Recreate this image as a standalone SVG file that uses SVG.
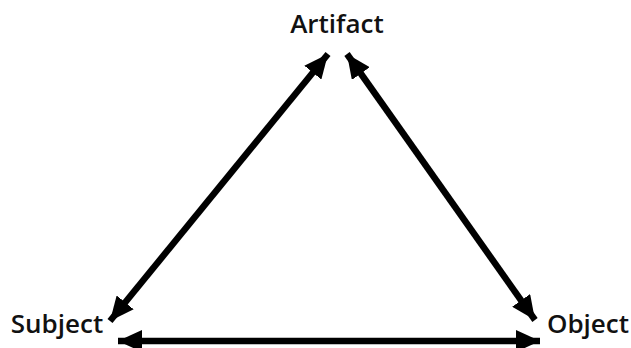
<svg xmlns="http://www.w3.org/2000/svg" width="631" height="348" viewBox="0 0 631 348">
<style>
.lbl{font-family:"Open Sans","Liberation Sans",sans-serif;font-size:26px;font-weight:600;fill:#111;}
.edge{stroke:#000;stroke-width:6.5;fill:none;}
</style>
<defs>
<marker id="ah" viewBox="0 0 24 22" refX="24" refY="11" markerWidth="24" markerHeight="22" markerUnits="userSpaceOnUse" orient="auto-start-reverse">
<path d="M0,0 L24,11 L0,22 z" fill="#000"/>
</marker>
</defs>
<rect width="631" height="348" fill="#fff"/>
<g id="connectors">
<line class="edge" x1="328" y1="54" x2="110" y2="321" marker-start="url(#ah)" marker-end="url(#ah)"/>
<line class="edge" x1="347" y1="54" x2="535" y2="320" marker-start="url(#ah)" marker-end="url(#ah)"/>
<line class="edge" x1="118" y1="341" x2="540" y2="341" marker-start="url(#ah)" marker-end="url(#ah)"/>
</g>
<g id="artifact"><text class="lbl" x="337" y="33" text-anchor="middle">Artifact</text></g>
<g id="subject"><text class="lbl" x="57" y="333" text-anchor="middle">Subject</text></g>
<g id="object"><text class="lbl" x="588" y="333" text-anchor="middle">Object</text></g>
</svg>
